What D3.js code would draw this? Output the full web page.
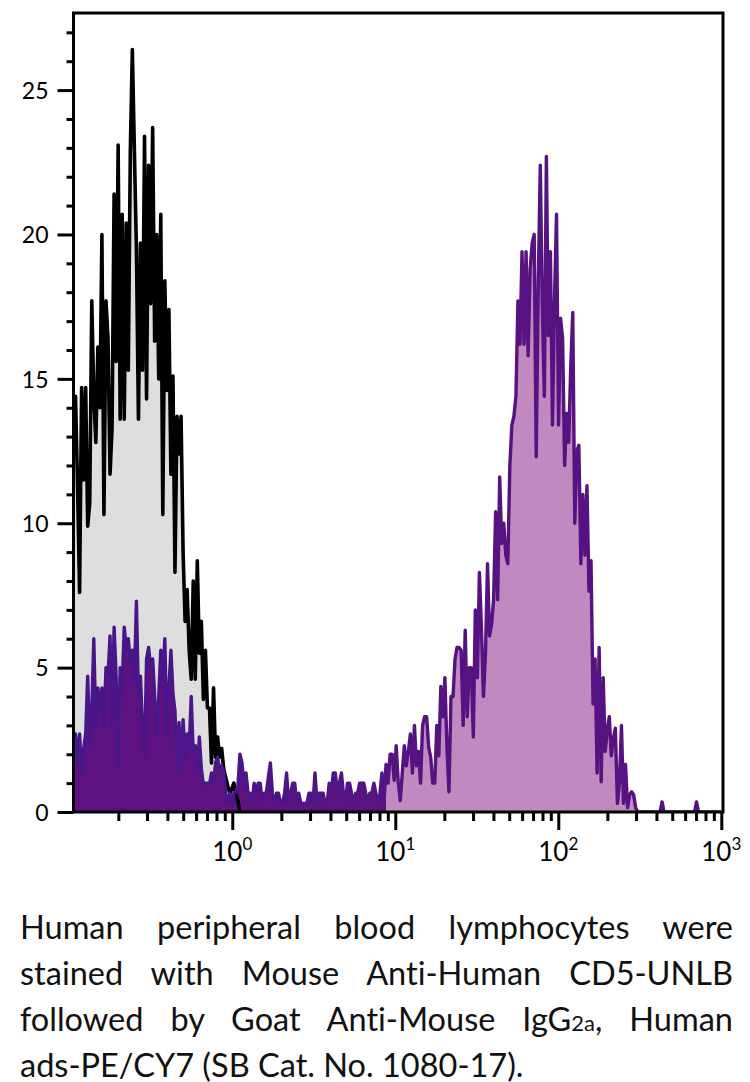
<!DOCTYPE html>
<html><head><meta charset="utf-8">
<script src="https://cdn.jsdelivr.net/npm/d3@7"></script>
<style>
body{margin:0;background:#fff;width:750px;height:1082px;overflow:hidden;position:relative;font-family:Lato,"Open Sans",sans-serif}
#caption{position:absolute;left:20px;top:904px;width:713px;font-size:32.5px;line-height:46px;color:#111;font-variant-ligatures:none}
#caption .ln{text-align:justify;text-align-last:justify;height:46px}
#caption .ln.last{text-align:left;text-align-last:left;white-space:nowrap}
.sub{font-size:22px}
</style></head><body>
<svg id="chart" width="750" height="890"></svg>
<div id="caption">
<div class="ln">Human peripheral blood lymphocytes were</div>
<div class="ln">stained with Mouse Anti-Human CD5-UNLB</div>
<div class="ln">followed by Goat Anti-Mouse IgG<span class="sub">2a</span>, Human</div>
<div class="ln last">ads-PE/CY7 (SB Cat. No. 1080-17).</div>
</div>
<script>
// histogram channels: uniform bins on log10 scale
const logStart = -0.974;
const logStep = 0.01245;

// unstained control (black line, grey fill)
const blackCounts = [
 13.5,14.4,11.3,7.6,14.7,11.5,14.7,9.9,10.7,17.7,
 14.4,12.8,16.1,14.0,20.0,10.3,17.7,16.4,11.7,13.3,
 21.4,15.6,23.1,13.6,20.7,13.6,20.4,15.3,22.9,26.4,
 22.9,19.5,13.6,19.7,15.3,23.4,14.3,22.4,17.6,23.7,
 16.3,20.0,15.0,20.7,10.3,18.4,14.6,17.4,11.7,15.1,
 8.3,13.7,12.4,13.7,9.0,6.6,7.7,5.6,4.6,8.0,
 4.6,8.7,5.5,6.6,3.9,5.6,3.6,3.6,1.7,4.3,
 1.9,2.6,1.9,2.2,1.5,1.2,0.9,0.65,0.8,1.0,
 0.6,0.4,0
];

// CD5 stained sample (purple)
const purpleCounts = [
 2.7,2.7,1.7,2.7,1.35,2.2,2.7,4.7,2.3,3.5,
 6.0,2.9,4.3,3.6,4.3,2.9,5.0,4.7,6.1,2.9,
 6.4,4.7,1.6,5.0,4.3,6.4,5.6,6.0,5.2,5.6,
 4.5,7.3,4.0,4.7,2.9,1.9,5.3,5.7,5.0,5.3,
 4.0,2.6,4.0,5.6,4.6,6.0,2.6,4.3,5.6,4.1,
 3.5,1.35,3.1,1.4,3.2,1.9,2.7,2.2,4.0,2.0,
 2.3,1.35,2.6,1.5,0.95,1.0,1.0,0.95,1.35,1.0,
 1.7,1.9,1.4,1.6,1.4,0.65,0.3,0.65,0.3,0.65,
 0.7,0.9,2.0,1.7,1.0,1.35,0.65,0.65,0.3,1.0,
 0.65,1.0,1.0,0.3,0.65,0.65,1.2,1.7,0.65,0.3,
 0.65,0.65,0.3,0.3,0.65,1.35,0.3,0.65,1.0,1.0,
 0.3,0.65,0.3,0.3,0.3,0.3,0.65,0.65,0.3,1.35,
 0.3,0.65,0.65,0.65,0.3,0.3,1.0,0.65,1.35,1.35,
 0.65,1.0,1.35,0.65,0.3,1.0,1.0,0.65,0.3,0.65,
 0.65,1.0,1.0,1.0,0.65,0.3,0.65,0.65,1.0,0.65,
 0.3,0.65,1.35,0.3,1.65,1.0,2.0,2.0,1.1,2.3,
 1.05,0.4,1.35,2.3,1.6,2.1,2.7,1.35,3.0,1.6,
 2.1,1.0,3.0,3.3,3.3,2.25,1.9,1.0,1.0,3.0,
 1.95,4.35,3.3,4.65,2.25,0.7,4.0,4.0,5.3,5.7,
 5.7,5.6,3.0,6.3,3.3,5.0,5.0,2.6,7.0,4.65,
 8.3,6.4,4.0,5.5,8.6,6.1,6.5,7.35,10.4,7.35,
 11.6,9.3,10.0,8.9,8.6,12.0,13.4,13.7,14.4,17.7,
 16.2,19.4,16.2,19.4,15.8,18.8,19.7,20.0,12.3,18.3,
 22.4,17.5,14.4,22.7,16.5,19.4,13.4,17.7,20.7,13.4,
 17.1,16.4,12.0,13.8,12.8,15.4,17.3,10.0,12.5,12.7,
 8.6,11.0,8.9,11.3,7.65,8.7,3.75,5.3,1.35,5.7,
 1.05,4.65,2.1,2.85,3.3,1.95,2.55,2.9,0.3,1.0,
 3.0,0.3,1.65,0.15,0.6,0.7,0.6,0.15,0,0,
 0,0,0,0,0,0,0,0,0,0,
 0.35,0,0,0,0,0,0,0,0,0,
 0,0,0,0,0,0,0,0.35,0,0,
 0,0,0,0,0,0,0,0,0,0
];

const yMajorTicks = [0,5,10,15,20,25];
const yMinorTicks = [1,2,3,4,6,7,8,9,11,12,13,14,16,17,18,19,21,22,23,24,26,27];
const xDecades = [1,10,100,1000];
const xDecadeExponents = ["0","1","2","3"];
const xMinorMultipliers = [2,3,4,5,6,7,8,9];
const xMinorBases = [0.1,1,10,100];

const svg = d3.select("#chart");
const pLeft = 73.5, pRight = 723, pTop = 13, pBottom = 812;

const x = d3.scaleLog().domain([Math.pow(10, logStart), Math.pow(10, 3.0104)]).range([pLeft, pRight]);
const y = d3.scaleLinear().domain([0, 27.67]).range([pBottom, pTop]);

const chan = i => Math.pow(10, logStart + i * logStep);
const blackData = blackCounts.map((v, i) => [chan(i), v]);
const purpleData = purpleCounts.map((v, i) => [chan(i), v]);

const defs = svg.append("defs");
defs.append("clipPath").attr("id", "plotclip").append("rect")
  .attr("x", pLeft).attr("y", pTop).attr("width", pRight - pLeft).attr("height", pBottom - pTop);

const split = (386 - pLeft) / (pRight - pLeft);
const gFill = defs.append("linearGradient").attr("id", "pfill")
  .attr("gradientUnits", "userSpaceOnUse").attr("x1", pLeft).attr("x2", pRight).attr("y1", 0).attr("y2", 0);
gFill.append("stop").attr("offset", 0).attr("stop-color", "#5e1180");
gFill.append("stop").attr("offset", split).attr("stop-color", "#5e1180");
gFill.append("stop").attr("offset", split).attr("stop-color", "#c08ac0");
gFill.append("stop").attr("offset", 1).attr("stop-color", "#c08ac0");
const gStroke = defs.append("linearGradient").attr("id", "pstroke")
  .attr("gradientUnits", "userSpaceOnUse").attr("x1", pLeft).attr("x2", pRight).attr("y1", 0).attr("y2", 0);
gStroke.append("stop").attr("offset", 0).attr("stop-color", "#47168a");
gStroke.append("stop").attr("offset", split).attr("stop-color", "#4f1585");
gStroke.append("stop").attr("offset", split).attr("stop-color", "#551280");
gStroke.append("stop").attr("offset", 1).attr("stop-color", "#551280");

const area = d3.area().x(d => x(d[0])).y0(y(0)).y1(d => y(d[1]));
const line = d3.line().x(d => x(d[0])).y(d => y(d[1]));

const plot = svg.append("g").attr("clip-path", "url(#plotclip)");
plot.append("path").datum(blackData).attr("d", area).attr("fill", "#dedede");
plot.append("path").datum(purpleData).attr("d", area).attr("fill", "url(#pfill)");
plot.append("path").datum(blackData).attr("d", line).attr("fill", "none")
  .attr("stroke", "#000").attr("stroke-width", 3.6).attr("stroke-linejoin", "round");
plot.append("path").datum(purpleData).attr("d", line).attr("fill", "none")
  .attr("stroke", "url(#pstroke)").attr("stroke-width", 3.4).attr("stroke-linejoin", "round");

// frame
svg.append("rect").attr("x", pLeft).attr("y", pTop).attr("width", pRight - pLeft).attr("height", pBottom - pTop)
  .attr("fill", "none").attr("stroke", "#000").attr("stroke-width", 3);

// y ticks
const yAxisMinor = d3.axisLeft(y).tickValues(yMinorTicks).tickSize(7).tickFormat("");
const yAxisMajor = d3.axisLeft(y).tickValues(yMajorTicks).tickSize(16).tickPadding(9).tickFormat(d3.format("d"));
[yAxisMinor, yAxisMajor].forEach(ax => {
  const g = svg.append("g").attr("transform", `translate(${pLeft},0)`).call(ax);
  g.select(".domain").remove();
  g.selectAll("line").attr("stroke", "#000").attr("stroke-width", 3);
  g.selectAll("text").attr("font-family", "Lato, sans-serif").attr("font-size", 23).attr("fill", "#000").attr("dy", "0.36em");
});

// x ticks
const minorVals = [];
xMinorBases.forEach(b => xMinorMultipliers.forEach(m => { const v = b * m; if (x(v) > pLeft + 2) minorVals.push(v); }));
const xAxisMinor = d3.axisBottom(x).tickValues(minorVals).tickSize(9).tickFormat("");
const xAxisMajor = d3.axisBottom(x).tickValues(xDecades).tickSize(18).tickFormat("");
[xAxisMinor, xAxisMajor].forEach(ax => {
  const g = svg.append("g").attr("transform", `translate(0,${pBottom})`).call(ax);
  g.select(".domain").remove();
  g.selectAll("line").attr("stroke", "#000").attr("stroke-width", 3);
});
const lab = svg.append("g");
xDecades.forEach((v, i) => {
  const t = lab.append("text").attr("x", x(v)).attr("y", 861).attr("text-anchor", "middle")
    .attr("font-family", "Lato, sans-serif").attr("font-size", 26).attr("fill", "#000");
  t.append("tspan").text("10");
  t.append("tspan").attr("dy", -11).attr("font-size", 17).text(xDecadeExponents[i]);
});
</script>
</body></html>
